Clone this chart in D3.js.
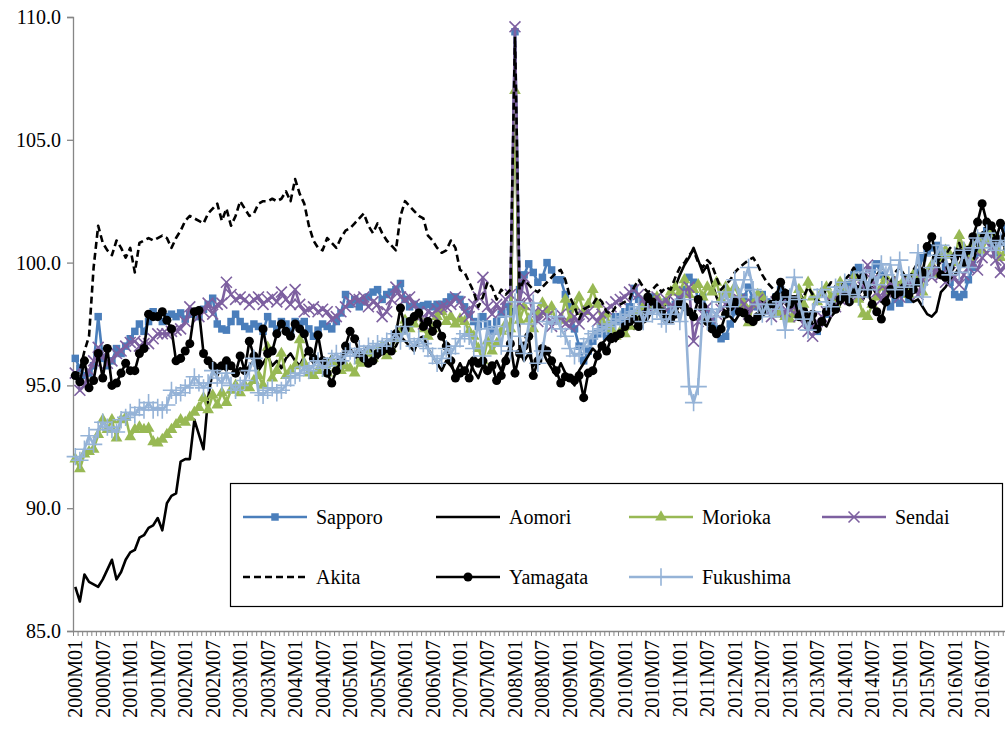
<!DOCTYPE html>
<html>
<head>
<meta charset="utf-8">
<script src="https://cdn.jsdelivr.net/npm/d3@7"></script>
<style>
    body { margin: 0; background: #fff; }
</style>
</head>
<body>
<div id="chart"></div>
<script>
const years = [2000, 2001, 2002, 2003, 2004, 2005, 2006, 2007, 2008, 2009, 2010, 2011, 2012, 2013, 2014, 2015, 2016]
const monthNames = ["01", "02", "03", "04", "05", "06", "07", "08", "09", "10", "11", "12"]
const yTicks = [85, 90, 95, 100, 105, 110]

const sapporo = [
    96.1, 95.7, 95.4, 95.5, 95.8, 97.8, 96.1, 95.8, 96.0, 96.5, 96.3, 96.6,
    96.9, 97.2, 97.5, 97.2, 97.6, 98.0, 97.8, 97.6, 97.8, 97.9, 97.8, 97.95,
    97.7, 97.9, 98.0, 97.8, 98.1, 98.3, 98.55, 97.5, 97.3, 97.25, 97.6, 97.9,
    97.6, 97.4, 97.3, 97.5, 97.4, 97.2, 97.8, 97.5, 97.3, 97.6, 97.5, 97.2,
    97.6, 97.5, 97.6, 97.3, 97.0, 97.25, 97.5, 97.4, 97.3, 97.6, 97.95, 98.7,
    98.3, 98.5, 98.2, 98.4, 98.6, 98.8, 98.9, 98.5, 98.7, 98.8, 98.9, 99.15,
    98.5, 98.2, 98.3, 98.2, 98.25, 98.3, 98.2, 98.3, 98.3, 98.4, 98.6, 98.6,
    98.5, 98.2, 97.9, 97.6, 97.4, 97.8, 97.5, 97.2, 97.6, 97.9, 98.2, 98.0,
    109.4, 98.9, 99.5, 99.95, 99.6, 99.2, 99.4, 100.0, 99.7, 99.3, 99.3, 98.7,
    98.2, 97.3, 96.6, 96.0, 96.4, 96.8, 97.1, 97.4, 97.0, 97.5, 97.8, 97.6,
    98.0, 98.2, 98.95, 98.5, 97.9, 98.2, 98.6, 98.3, 98.1, 98.4, 98.0, 98.3,
    98.6, 98.9, 99.4, 99.2, 98.5, 98.6, 98.0, 97.6, 97.3, 96.9, 97.0, 97.5,
    98.0, 98.3, 98.6, 99.0, 98.5, 98.2, 98.7, 98.4, 98.1, 98.6, 98.9, 98.5,
    98.2, 97.9, 98.3, 98.0, 97.7, 97.4, 97.2, 97.6, 97.9, 98.3, 98.6, 98.9,
    98.7, 99.1, 99.5, 99.8, 99.3, 99.0, 99.7, 99.95, 99.5, 98.8, 98.2, 98.5,
    98.35, 98.8, 98.5, 99.2, 99.6, 100.2, 100.4, 100.6, 100.7, 100.3, 99.8, 99.2,
    98.7, 98.6, 98.7, 99.3, 99.8, 100.4, 101.05, 101.3, 100.8, 100.4, 100.9, 101.4
]
const aomori = [
    86.8, 86.2, 87.3, 87.0, 86.9, 86.8, 87.1, 87.5, 87.9, 87.1, 87.4, 87.9,
    88.2, 88.3, 88.8, 88.9, 89.2, 89.3, 89.6, 89.1, 90.2, 90.5, 90.6, 91.9,
    92.0, 92.0, 93.6, 93.0, 92.4, 94.5, 95.6, 95.4, 95.8, 95.6, 95.9, 95.5,
    95.7, 95.5, 95.8, 96.0, 95.6, 95.9, 96.2, 95.8, 96.0, 95.7, 96.1, 96.3,
    96.0, 95.8, 96.2, 96.4, 95.9, 96.1, 95.7, 95.9, 96.2, 95.8, 96.0, 96.3,
    96.5, 96.2, 96.0, 96.4, 96.6, 96.3, 96.1, 96.5, 96.8, 96.4, 96.6, 97.0,
    96.8, 96.6, 96.4, 96.9, 97.0, 96.5, 96.2, 95.9, 95.6, 96.0, 95.8, 95.5,
    95.9, 95.5, 96.0, 95.6, 95.3, 95.8, 95.5, 95.7, 96.0, 95.6, 96.2, 96.5,
    108.8, 96.4, 96.0, 96.3, 95.8, 96.1, 96.4, 96.0, 95.7, 95.4, 95.9, 95.5,
    95.3, 95.0, 95.6, 95.9, 96.2, 96.5, 96.3, 96.7, 96.9, 97.1, 96.8, 97.2,
    97.4, 97.6, 97.3, 97.8, 98.0, 97.7, 98.1, 98.3, 98.0, 98.4, 98.7, 99.0,
    99.5, 99.9, 100.2, 100.6, 100.1, 99.6, 99.9, 99.2, 98.6, 98.2, 98.0, 97.8,
    97.6, 97.9, 98.3, 98.0, 98.2, 98.5, 98.4, 98.0, 98.3, 97.9, 98.2, 98.6,
    98.7, 98.4, 98.8, 98.5, 97.8, 97.5, 97.3, 97.6, 97.4, 97.8, 98.0, 98.3,
    98.6, 98.8, 99.1, 98.7, 98.5, 98.9, 99.0, 98.7, 98.4, 98.6, 98.9, 99.1,
    99.2, 98.9, 98.6, 98.4, 98.5, 98.2, 97.9, 97.8, 98.0, 98.8, 99.0, 99.3,
    99.5, 99.8, 100.2, 100.5, 100.0, 100.7, 101.0, 101.3, 101.6, 101.2, 101.0, 100.6
]
const morioka = [
    92.0, 91.6, 92.2, 92.3, 92.4, 93.0, 93.6, 93.2, 93.6, 92.85, 93.6, 93.7,
    92.9, 93.2, 93.3, 93.2, 93.25, 92.7, 92.65, 92.8, 93.0, 93.2, 93.4, 93.6,
    93.5, 93.7, 93.9, 94.1, 94.5, 94.0, 94.6, 94.2, 94.7, 94.3, 94.8, 95.0,
    94.7, 95.0, 94.9, 95.2, 95.4, 95.0, 96.55, 95.3, 95.6, 96.3, 95.4, 95.6,
    95.8, 96.85, 95.9, 95.5, 95.4, 95.6, 95.8, 95.5, 96.0, 95.7, 95.6, 95.8,
    95.7, 95.5, 96.0, 95.9, 96.3, 96.1, 96.4, 96.6, 96.2, 96.5, 96.9, 97.2,
    97.65, 97.3, 97.5, 97.8, 97.3, 97.0, 97.3, 97.8, 98.0, 97.6, 97.8, 97.5,
    97.7, 97.6, 97.2, 97.0, 96.5, 96.0, 96.8, 96.4, 96.7, 97.2, 97.5, 97.3,
    107.0, 97.65, 98.2, 97.7, 97.3, 97.9, 98.35, 98.0, 98.2, 97.6, 97.65, 98.5,
    97.7, 98.2, 98.6, 98.0, 98.3, 98.9, 98.3, 97.6, 97.9, 97.3, 97.0, 97.2,
    97.1, 97.4, 97.8, 98.0, 98.2, 98.5, 98.3, 98.6, 98.2, 98.4, 98.8, 99.0,
    98.8, 99.3, 98.7, 98.9, 99.1, 98.6, 99.0, 98.8, 99.2, 98.5, 99.0, 98.7,
    99.0, 98.6, 98.3, 97.55, 98.3, 98.7, 98.6, 98.3, 98.1, 97.9, 98.0, 97.8,
    97.7, 97.9, 98.9, 98.3, 99.2, 98.6, 98.4, 98.8, 99.0, 98.6, 98.3, 99.2,
    99.0, 98.7, 99.4, 98.5, 97.9, 97.8, 98.3, 98.6, 99.0, 99.4, 98.8, 99.2,
    99.0, 99.3, 98.7, 99.5, 99.2, 98.8, 99.6, 99.9, 99.5, 100.2, 100.5, 100.3,
    100.0, 101.1, 100.6, 100.2, 100.8, 101.0, 100.5, 100.9, 101.2, 100.6, 100.2, 100.4
]
const sendai = [
    95.5, 94.8, 95.0, 95.6, 96.0, 96.55, 96.2, 95.9, 96.0, 96.3, 96.4, 96.6,
    96.75, 96.8, 96.6, 96.7, 96.7, 96.9, 97.1, 97.1, 97.1, 97.2, 97.25, 97.3,
    97.6, 98.2, 98.0, 97.8, 98.0, 98.35, 97.9, 98.3, 98.35, 99.2, 98.7, 98.5,
    98.6, 98.5, 98.3, 98.5, 98.6, 98.3, 98.5, 98.6, 98.4, 98.8, 98.5, 98.3,
    98.9, 98.3, 98.0, 98.1, 98.2, 98.0, 98.1, 98.0, 97.7, 97.8, 98.0, 98.2,
    98.4, 98.55, 98.5, 98.6, 98.2, 98.4, 98.3, 97.8, 98.0, 98.5, 99.0, 98.6,
    98.5, 98.6, 98.3, 98.0, 97.5, 98.0, 97.9, 98.1, 98.2, 98.2, 98.3, 98.6,
    98.4, 98.0, 97.8, 98.3, 98.6, 99.4, 98.2, 97.9, 98.3, 98.0, 98.5, 98.7,
    109.6, 98.35, 99.4, 98.6, 97.95, 97.6, 98.0, 97.8, 97.4, 97.6, 97.9, 97.5,
    97.4, 97.8, 97.5, 97.9, 98.0, 97.8, 97.6, 97.9, 98.1, 98.2, 98.4, 98.5,
    98.6, 98.8, 98.9, 98.7, 98.5, 98.2, 98.4, 98.6, 98.3, 98.5, 98.2, 98.4,
    98.5, 98.8, 99.0, 96.8, 97.6, 97.9, 98.2, 97.7, 97.9, 98.1, 98.3, 98.4,
    98.2, 98.5, 98.3, 97.9, 98.3, 98.5, 98.3, 98.0, 97.8, 98.4, 98.3, 98.0,
    98.1, 98.2, 97.8, 97.5, 97.2, 97.0, 97.6, 97.8, 98.0, 98.4, 98.2, 98.5,
    98.6, 98.9, 99.2, 98.7, 99.0, 99.9, 99.3, 98.8, 98.5, 98.9, 99.2, 98.8,
    98.6, 98.9, 99.2, 99.0, 98.7, 99.3, 99.6, 99.4, 99.8, 99.5, 99.2, 99.6,
    99.4, 99.1, 99.5, 99.8, 100.0, 99.7, 100.2, 100.4, 100.6, 100.1, 99.6, 99.9
]
const akita = [
    95.3, 95.6, 96.4, 97.0, 99.8, 101.5, 100.8, 100.5, 100.3, 100.9, 100.6, 100.2,
    100.6, 99.6, 100.8, 100.9, 101.0, 100.9, 101.0, 101.1, 101.0, 100.6, 101.0, 101.3,
    101.7, 101.9, 101.8, 101.7, 101.6, 102.0, 102.2, 102.4, 101.7, 102.2, 101.5, 101.9,
    102.5, 102.2, 101.9, 102.0, 102.4, 102.5, 102.5, 102.6, 102.5, 102.6, 102.9, 102.5,
    103.4, 102.8, 102.4, 101.5, 100.9, 100.6, 100.5, 101.0, 100.8, 100.6, 101.0, 101.3,
    101.4, 101.6, 101.8, 102.0, 101.5, 101.2, 101.6, 101.2, 100.9, 100.7, 100.5, 101.9,
    102.5, 102.3, 102.1, 101.9, 101.8, 101.1, 100.9, 100.6, 100.4, 100.5, 100.9, 100.6,
    99.7, 99.6, 99.2, 98.8, 98.2, 98.6, 99.2, 99.0, 98.5, 98.9, 98.7, 98.9,
    109.2, 98.9, 99.3, 99.1, 98.9, 98.8, 99.0, 99.2, 99.4, 99.6, 99.7, 99.3,
    98.6, 98.2, 97.7, 98.1, 98.2, 98.3, 98.6, 98.4, 98.0, 97.9, 98.2, 98.3,
    98.4, 98.5, 99.0, 99.3, 99.0, 98.8, 98.9, 99.1, 98.8, 99.0, 98.9, 99.4,
    99.8, 100.0, 100.3, 100.5, 100.0, 99.8, 100.1, 99.9, 99.4, 98.9, 99.1, 99.3,
    99.6, 99.8, 99.95, 100.1, 100.2, 99.9, 99.5, 99.2, 99.0, 98.8, 98.7, 98.9,
    98.8, 98.5, 98.3, 98.6, 99.0, 98.7, 98.4, 98.6, 98.9, 99.2, 99.0, 98.8,
    99.3, 99.5, 99.8, 99.4, 99.2, 99.0, 99.3, 99.5, 99.7, 99.4, 99.2, 99.6,
    99.8, 99.5, 99.3, 99.7, 100.0, 99.6, 99.4, 99.8, 100.1, 99.9, 100.3, 100.6,
    100.4, 100.8, 100.2, 100.6, 101.0, 100.7, 101.2, 101.5, 101.0, 100.6, 100.9, 100.5
]
const yamagata = [
    95.4, 95.15, 96.0, 94.9, 95.2, 96.3, 95.3, 96.5, 95.0, 95.1, 95.5, 95.9,
    95.6, 95.6, 96.3, 96.5, 97.9, 97.8, 97.8, 98.0, 97.65, 97.3, 96.0, 96.1,
    96.4, 96.7, 98.0, 98.05, 96.3, 96.0, 95.8, 95.7, 95.8, 96.0, 95.8, 95.5,
    96.2, 95.6, 96.8, 96.2, 95.9, 97.3, 96.3, 96.4, 97.1, 97.5, 97.2, 97.0,
    97.5, 97.3, 97.1, 96.4, 96.1, 97.05, 96.0, 95.5, 95.1, 95.6, 96.0, 96.6,
    97.2, 96.9, 96.3, 96.1, 95.9, 96.0, 96.3, 96.4, 96.5, 96.4, 97.1, 98.15,
    97.3, 97.6, 97.8, 97.95, 97.4, 97.6, 97.2, 97.5, 97.0, 96.6, 96.0, 95.3,
    95.5, 95.6, 95.3, 96.0, 95.9, 96.0, 95.6, 95.8, 95.2, 95.4, 96.0, 96.7,
    95.5, 96.3, 96.6, 97.0, 95.4, 96.0, 96.5, 96.4, 96.0, 95.6, 95.1, 95.35,
    95.3, 95.2, 95.4, 94.5, 95.5, 95.6, 96.2, 96.6, 96.4, 96.9, 97.0, 97.1,
    97.4, 97.6, 97.7, 97.4, 97.7, 98.6, 98.4, 98.2, 98.0, 97.7, 97.7, 97.9,
    98.35, 98.2, 98.0, 97.8, 98.5, 98.2, 97.6, 97.3, 97.1, 97.3, 97.9, 98.2,
    98.4, 98.0, 97.95, 97.7, 97.6, 97.8, 98.0, 98.2, 98.3, 98.6, 99.2, 98.7,
    98.3, 98.5, 97.8, 98.0, 97.6, 97.9, 97.3, 97.6, 98.0, 98.3, 98.1, 98.5,
    98.6, 98.4, 98.8, 98.9, 99.4, 98.8, 98.3, 98.0, 97.7, 98.4, 98.9, 98.7,
    98.8, 99.0, 98.7, 98.9, 99.2, 99.6, 100.65, 101.05, 100.2, 99.5, 99.4, 99.8,
    100.2, 100.4, 100.0, 100.5, 101.05, 101.65, 102.4, 101.65, 101.5, 100.9, 101.6, 101.0
]
const fukushima = [
    92.1, 91.95, 92.4, 92.95, 92.6, 93.2, 93.5, 93.3, 93.2, 93.1, 93.6, 93.7,
    93.9, 93.8, 94.1, 94.0, 94.3, 94.0, 94.1, 94.0, 94.2, 94.8, 94.6, 94.7,
    94.9, 95.0, 95.35, 95.1, 94.9, 95.1, 95.6, 95.3, 95.1, 95.5, 95.0, 94.8,
    95.0, 95.2, 95.6, 96.1, 94.7, 94.6, 94.8, 94.9, 94.7, 94.8, 95.0, 95.3,
    95.4, 95.5, 95.75, 95.6, 95.8, 96.0, 95.7, 95.8, 96.1, 96.3, 96.0, 96.2,
    96.4, 96.2, 96.5, 96.3, 96.6, 96.5, 96.7, 96.6, 96.8, 96.9, 97.1, 96.8,
    97.4, 96.8, 96.6, 96.9, 96.7, 96.5, 96.2, 95.9, 96.1, 96.5, 96.3, 96.6,
    96.9, 97.1, 97.0, 96.5, 97.6, 96.2, 97.3, 96.8, 97.4, 96.6, 97.8, 96.4,
    98.4, 97.0, 96.3, 97.5, 98.35, 95.9, 96.4, 97.6, 97.5, 97.8, 97.3, 97.0,
    96.5, 96.2, 96.3, 96.6, 96.9, 97.1, 97.2, 97.3, 97.4, 97.5, 97.6, 97.7,
    97.8, 97.9, 98.0, 98.2, 97.6, 98.0, 97.9, 98.1, 97.7, 97.5, 97.9, 98.2,
    97.6, 98.5, 94.95, 94.3, 94.95, 98.1, 97.6, 98.1, 97.8, 98.4, 98.8, 98.2,
    99.3, 98.6, 99.3, 99.8, 98.9, 98.3, 97.9, 98.3, 97.8, 98.1, 98.4, 97.25,
    98.6, 99.4, 98.5, 97.7, 97.25, 98.0, 98.6, 98.9, 98.4, 98.2, 99.0, 98.8,
    99.2, 98.7, 99.3, 98.6, 99.6, 98.9, 99.7, 99.1, 99.95, 99.5, 99.9, 98.9,
    100.1, 99.0, 99.5, 99.1, 100.4, 98.6, 99.4, 99.8, 100.3, 100.7, 100.2, 99.5,
    100.3, 99.6, 100.5, 99.8, 100.6, 101.0, 100.6, 101.2, 100.8, 100.5, 100.9, 100.7
]

// series in Excel drawing order, later ones on top
const series = [
    { name: "Sapporo", values: sapporo, color: "#4a7ebb", marker: "square" },
    { name: "Aomori", values: aomori, color: "#000000", marker: null },
    { name: "Morioka", values: morioka, color: "#98b954", marker: "triangle" },
    { name: "Sendai", values: sendai, color: "#7d60a0", marker: "x" },
    { name: "Akita", values: akita, color: "#000000", marker: null, dash: "7,4" },
    { name: "Yamagata", values: yamagata, color: "#000000", marker: "circle" },
    { name: "Fukushima", values: fukushima, color: "#95b3d7", marker: "plus" }
]

const months = []
years.forEach(yr => monthNames.forEach(m => months.push(yr + "M" + m)))

const svgWidth = 1005, svgHeight = 731
const plotLeft = 73, plotTop = 17, plotBottom = 631
const band = 4.58
const axisColor = "#868686"
const serifFont = "Liberation Serif, Tinos, Noto Serif, DejaVu Serif, FreeSerif, Times New Roman, Times, serif"

const svg = d3.select("#chart")
    .append("svg")
    .attr("width", svgWidth)
    .attr("height", svgHeight)
    .style("background", "#fff")

const x = d3.scaleBand()
    .domain(months)
    .range([plotLeft, plotLeft + months.length * band])
    .padding(0)

const y = d3.scaleLinear()
    .domain([85, 110])
    .range([plotBottom, plotTop])

const cx = d => x(d) + x.bandwidth() / 2

// y axis
const yAxis = svg.append("g")
    .attr("transform", "translate(" + plotLeft + ",0)")
    .call(d3.axisLeft(y).tickValues(yTicks).tickFormat(d3.format(".1f")).tickSize(6).tickPadding(6))
yAxis.select(".domain").attr("stroke", axisColor).attr("stroke-width", 1.3)
yAxis.selectAll(".tick line").attr("stroke", axisColor).attr("stroke-width", 1.3)
yAxis.selectAll(".tick text")
    .attr("fill", "#000")
    .style("font-family", serifFont)
    .style("font-size", "20px")

// x axis: minor ticks between every month
const xBound = d3.scaleLinear().domain([0, months.length]).range(x.range())
const xAxis = svg.append("g")
    .attr("transform", "translate(0," + plotBottom + ")")
    .call(d3.axisBottom(xBound).tickValues(d3.range(0, months.length + 1)).tickFormat("").tickSize(5).tickSizeOuter(0))
xAxis.select(".domain").attr("stroke", axisColor).attr("stroke-width", 1.3)
xAxis.selectAll(".tick line").attr("stroke", axisColor)

// rotated labels every six months
svg.append("g")
    .selectAll("text")
    .data(months.filter((d, i) => i % 6 === 0))
    .enter()
    .append("text")
    .attr("transform", d => "translate(" + cx(d) + "," + (plotBottom + 9) + ") rotate(-90)")
    .attr("text-anchor", "end")
    .attr("dy", "0.35em")
    .style("font-family", serifFont)
    .style("font-size", "20px")
    .text(d => d)

const line = d3.line()
    .x((d, i) => cx(months[i]))
    .y(d => y(d))

const symbolFor = {
    square: d3.symbol().type(d3.symbolSquare).size(56),
    triangle: d3.symbol().type(d3.symbolTriangle).size(60),
    circle: d3.symbol().type(d3.symbolCircle).size(64),
    x: d3.symbol().type(d3.symbolX).size(80),
    plus: d3.symbol().type(d3.symbolPlus).size(100)
}

const drawMarker = (g, s, px, py) => {
    let path = g.append("path")
        .attr("d", symbolFor[s.marker]())
        .attr("transform", "translate(" + px + "," + py + ")")
    if (s.marker === "x" || s.marker === "plus") {
        path.attr("fill", "none").attr("stroke", s.color).attr("stroke-width", 1.6)
    } else {
        path.attr("fill", s.color)
    }
}

const plot = svg.append("g")
series.forEach(s => {
    let g = plot.append("g")
    g.append("path")
        .datum(s.values)
        .attr("d", line)
        .attr("fill", "none")
        .attr("stroke", s.color)
        .attr("stroke-width", 2.6)
        .attr("stroke-linejoin", "round")
        .attr("stroke-dasharray", s.dash || null)
    if (s.marker) {
        s.values.forEach((v, i) => drawMarker(g, s, cx(months[i]), y(v)))
    }
})

// legend
const legend = svg.append("g")
legend.append("rect")
    .attr("x", 230.5)
    .attr("y", 483.5)
    .attr("width", 772)
    .attr("height", 123)
    .attr("fill", "#fff")
    .attr("stroke", "#000")
    .attr("stroke-width", 1.2)

const legendPos = [
    [243, 517], [436, 517], [629, 517], [822, 517],
    [243, 577], [436, 577], [629, 577]
]
series.forEach((s, i) => {
    let [lx, ly] = legendPos[i]
    let g = legend.append("g")
    g.append("line")
        .attr("x1", lx).attr("x2", lx + 64)
        .attr("y1", ly).attr("y2", ly)
        .attr("stroke", s.color)
        .attr("stroke-width", 2.6)
        .attr("stroke-dasharray", s.dash || null)
    if (s.marker) {
        drawMarker(g, s, lx + 32, ly)
    }
    g.append("text")
        .attr("x", lx + 73)
        .attr("y", ly)
        .attr("dy", "0.35em")
        .style("font-family", serifFont)
        .style("font-size", "20px")
        .text(s.name)
})
</script>
</body>
</html>
